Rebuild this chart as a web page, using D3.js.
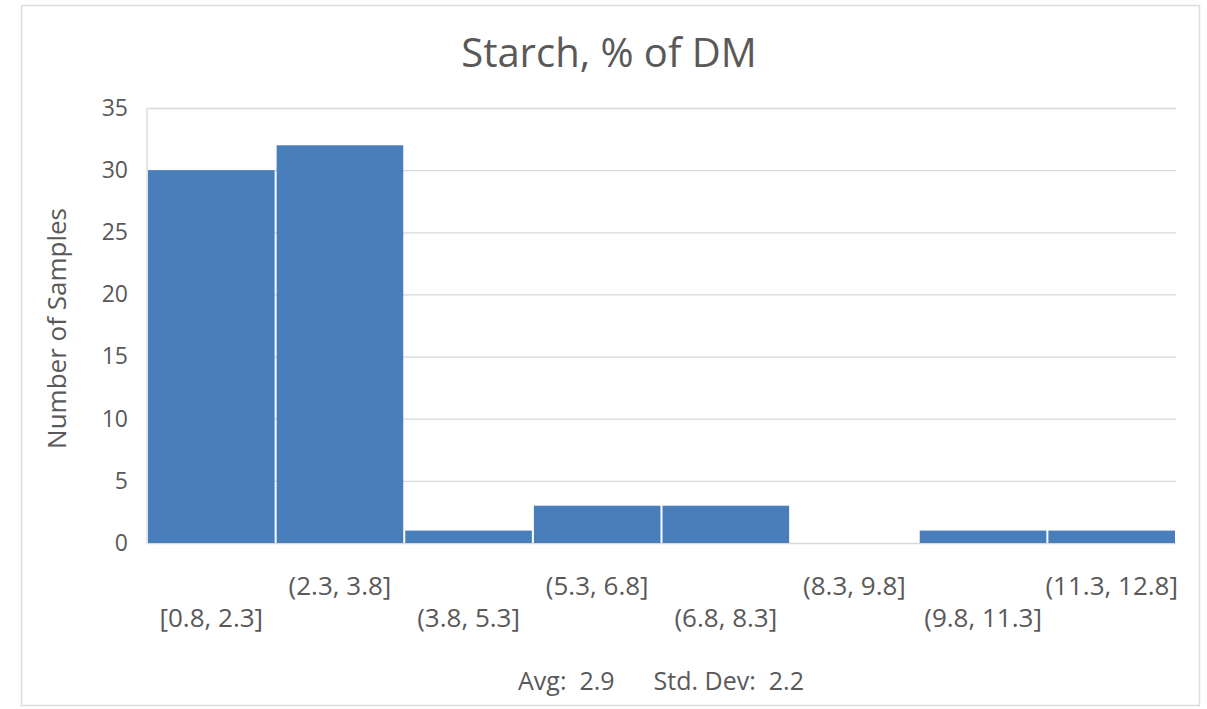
<!DOCTYPE html>
<html>
<head>
<meta charset="utf-8">
<script src="https://cdn.jsdelivr.net/npm/d3@7"></script>
<style>
  html, body { margin: 0; padding: 0; background: #ffffff; }
  svg { display: block; font-family: "Open Sans", "Noto Sans", sans-serif; }
</style>
</head>
<body>
<svg id="chart" width="1207" height="709"></svg>
<script>
// Histogram bins of starch content and the number of samples in each
const binLabels = ["[0.8, 2.3]", "(2.3, 3.8]", "(3.8, 5.3]", "(5.3, 6.8]",
                   "(6.8, 8.3]", "(8.3, 9.8]", "(9.8, 11.3]", "(11.3, 12.8]"];
const sampleCounts = [30, 32, 1, 3, 3, 0, 1, 1];
const yTickValues = [0, 5, 10, 15, 20, 25, 30, 35];
const titleText = "Starch, % of DM";
const yTitleText = "Number of Samples";
const summaryStats = [["Avg:", 2.9], ["Std. Dev:", 2.2]];

const svg = d3.select("#chart");
const plot = { left: 147, right: 1176, top: 108, bottom: 543 };
const textColor = "#595959";
const gridColor = "#d9d9d9";
const barColor = "#4a7ebb";

// Outer chart frame
svg.append("rect")
  .attr("x", 21.5).attr("y", 5.5)
  .attr("width", 1178).attr("height", 700)
  .attr("fill", "#ffffff")
  .attr("stroke", "#dcdcdc")
  .attr("stroke-width", 1.5);

const x = d3.scaleBand()
  .domain(binLabels)
  .range([plot.left, plot.right])
  .padding(0);

const y = d3.scaleLinear()
  .domain([0, 35])
  .range([plot.bottom, plot.top]);

// Horizontal gridlines
const grid = svg.append("g")
  .attr("transform", `translate(${plot.left},0)`)
  .call(d3.axisLeft(y).tickValues(yTickValues).tickSize(-(plot.right - plot.left)).tickFormat(""));
grid.select(".domain").remove();
grid.selectAll("line").attr("stroke", gridColor).attr("stroke-width", 1.3);

// Left edge of the plot area
svg.append("line")
  .attr("x1", plot.left).attr("x2", plot.left)
  .attr("y1", y(35)).attr("y2", y(0))
  .attr("stroke", gridColor).attr("stroke-width", 1.3);

// Y tick labels
const yAxis = svg.append("g")
  .attr("transform", `translate(${plot.left},0)`)
  .call(d3.axisLeft(y).tickValues(yTickValues).tickSize(0).tickPadding(19));
yAxis.select(".domain").remove();
yAxis.selectAll("text")
  .attr("fill", textColor)
  .style("font-size", "23px")
  .style("font-family", "'Open Sans', sans-serif");

// Bars
svg.append("g").selectAll("rect")
  .data(sampleCounts.map((v, i) => ({ label: binLabels[i], value: v })))
  .join("rect")
  .attr("x", d => x(d.label) + 1)
  .attr("width", x.bandwidth() - 2)
  .attr("y", d => y(d.value))
  .attr("height", d => y(0) - y(d.value))
  .attr("fill", barColor);

// X tick labels, staggered on two rows
const xAxis = svg.append("g")
  .attr("transform", `translate(0,${plot.bottom})`)
  .call(d3.axisBottom(x).tickSize(0).tickPadding(0));
xAxis.select(".domain").remove();
xAxis.selectAll("text")
  .attr("fill", textColor)
  .attr("dy", null)
  .attr("y", (d, i) => (i % 2 === 0 ? 84 : 52))
  .style("font-size", "26px")
  .style("font-family", "'Open Sans', sans-serif");

// Chart title
svg.append("text")
  .attr("x", 609).attr("y", 67)
  .attr("text-anchor", "middle")
  .attr("fill", textColor)
  .style("font-size", "40px")
  .text(titleText);

// Y axis title
svg.append("text")
  .attr("transform", `translate(66,${(plot.top + plot.bottom) / 2 + 3}) rotate(-90)`)
  .attr("text-anchor", "middle")
  .attr("fill", textColor)
  .style("font-size", "26px")
  .text(yTitleText);

// Summary statistics line below the axis
const summary = svg.append("text")
  .attr("x", 661).attr("y", 690)
  .attr("text-anchor", "middle")
  .attr("fill", textColor)
  .style("font-size", "25px")
  .attr("xml:space", "preserve");
summary.text(summaryStats.map(([k, v]) => `${k}  ${d3.format(".1f")(v)}`).join("      "));
</script>
</body>
</html>
